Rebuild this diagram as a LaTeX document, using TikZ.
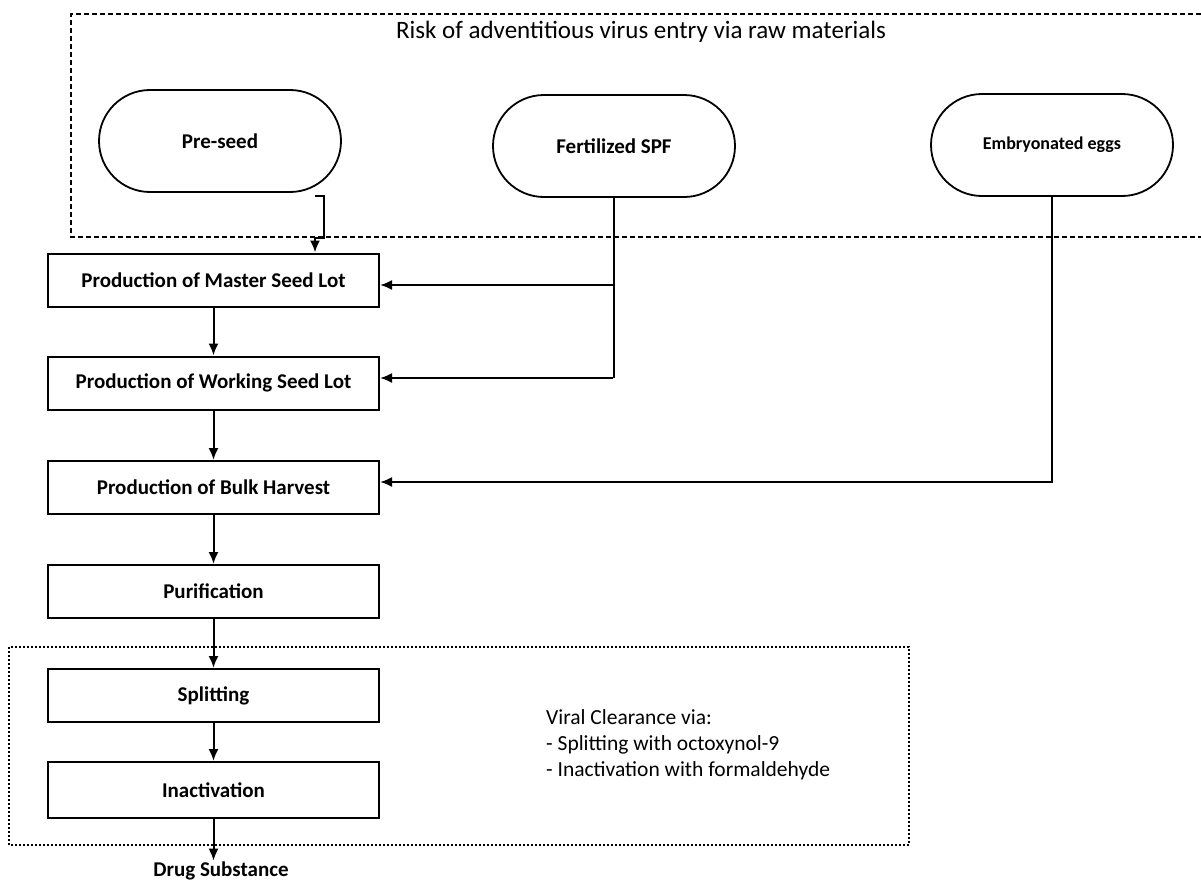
\documentclass[tikz,border=0pt]{standalone}
\usepackage{fontspec}
\setmainfont{Carlito}
\usetikzlibrary{arrows.meta}
\begin{document}
\begin{tikzpicture}[x=1pt,y=-1pt,
  flowbox/.style={draw, line width=2pt, minimum width=331pt, minimum height=53pt, inner sep=0pt, font=\fontsize{21}{24}\selectfont\bfseries},
  pill/.style={draw, line width=1.8pt, rounded corners=51pt, minimum width=242pt, minimum height=102pt, inner sep=0pt, font=\fontsize{21}{24}\selectfont\bfseries},
  arr/.style={line width=2pt, -{Latex[length=12pt,width=10pt]}},
  conn/.style={line width=2pt},
  zonedash/.style={line width=1.6pt, dash pattern=on 5pt off 3pt},
  zonedot/.style={line width=1.2pt, dash pattern=on 2pt off 2pt}]
\useasboundingbox (0,0) rectangle (1201,884);
\fill[white] (0,0) rectangle (1201,884);

% zones
\draw[zonedash] (1201,14) -- (71,14) -- (71,237) -- (1201,237);
\draw[zonedot] (9,647) rectangle (909,845);

\node[font=\fontsize{25}{28}\selectfont] (title) at (641,32) {Risk of adventitious virus entry via raw materials};

% raw materials
\node[pill] (pre) at (220,141) {Pre-seed};
\node[pill] (fert) at (614,146) {Fertilized SPF};
\node[pill, font=\fontsize{18}{21}\selectfont\bfseries] (emb) at (1052,145) {Embryonated eggs};

% process
\node[flowbox] (master) at (213.5,280) {Production of Master Seed Lot};
\node[flowbox] (working) at (213.5,383) {Production of Working Seed Lot};
\node[flowbox] (bulk) at (213.5,487.5) {Production of Bulk Harvest};
\node[flowbox] (purif) at (213.5,591.5) {Purification};
\node[flowbox] (split) at (213.5,695.5) {Splitting};
\node[flowbox, minimum height=56pt] (inact) at (213.5,790) {Inactivation};
\node[font=\fontsize{21}{24}\selectfont\bfseries, inner sep=1pt] (drug) at (221,871) {Drug Substance};

\node[anchor=west, align=left, inner sep=0pt, font=\fontsize{21.5}{26}\selectfont] (viral) at (546,745)
  {Viral Clearance via:\\- Splitting with octoxynol-9\\- Inactivation with formaldehyde};

% pre-seed connector
\coordinate (p1) at (315,196);
\coordinate (p2) at (324,196);
\coordinate (p3) at (324,238);
\coordinate (p4) at (315,238);
\draw[arr] (p1) -- (p2) -- (p3) -- (p4) -- (p4 |- master.north);

% fertilized SPF connectors
\coordinate (f1) at (613,285);
\coordinate (f2) at (613,378);
\draw[conn] (fert.south) -- (fert.south |- f2);
\draw[arr] (f1) -- (f1 -| master.east);
\draw[arr] (f2) -- (f2 -| working.east);

% embryonated eggs connector
\coordinate (e1) at (1052,482);
\draw[arr] (emb.south) -- (e1) -- (e1 -| bulk.east);

% vertical flow
\draw[arr] (master.south) -- (working.north);
\draw[arr] (working.south) -- (bulk.north);
\draw[arr] (bulk.south) -- (purif.north);
\draw[arr] (purif.south) -- (split.north);
\draw[arr] (split.south) -- (inact.north);
\draw[arr] (inact.south) -- (inact.south |- drug.north);
\end{tikzpicture}
\end{document}
